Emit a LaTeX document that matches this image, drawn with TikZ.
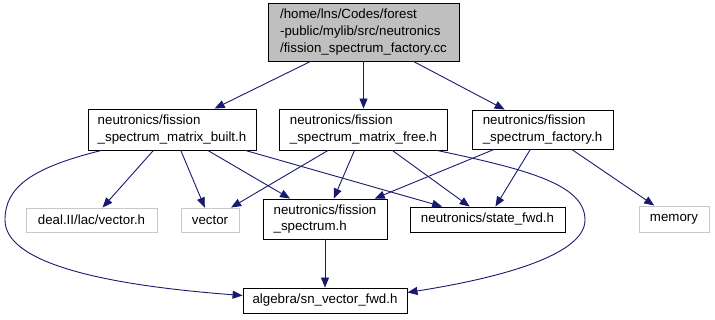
\documentclass[tikz,border=0pt]{standalone}
\usepackage{fontspec}
\setmainfont{Liberation Sans}
\usetikzlibrary{arrows.meta}

\definecolor{depblue}{HTML}{191970}
\definecolor{srcgray}{HTML}{BFBFBF}
\definecolor{sysgray}{HTML}{C8C8C8}

\begin{document}
\begin{tikzpicture}[x=1pt, y=-1pt]

	\tikzstyle{header}=[draw, line width=0.9pt, inner sep=0pt, align=left, font=\fontsize{13.3}{16.7}\selectfont]
	\tikzstyle{source}=[header, fill=srcgray]
	\tikzstyle{sysheader}=[header, draw=sysgray]

	\tikzstyle{dep}=[-{Triangle[length=10pt, width=8pt]}, depblue, line width=0.9pt]

	\useasboundingbox (0,0) rectangle (715,320);

	\node[source, minimum width=191pt, minimum height=58pt] (factory_cc) at (363.5,32) {/home/lns/Codes/forest\\-public/mylib/src/neutronics\\/fission\_spectrum\_factory.cc};

	\node[header, minimum width=168pt, minimum height=41pt] (matrix_built) at (172,129.5) {neutronics/fission\\\_spectrum\_matrix\_built.h};
	\node[header, minimum width=168pt, minimum height=41pt] (matrix_free) at (363.5,129.5) {neutronics/fission\\\_spectrum\_matrix\_free.h};
	\node[header, minimum width=141pt, minimum height=39pt] (factory_h) at (542.5,129.5) {neutronics/fission\\\_spectrum\_factory.h};

	\node[sysheader, minimum width=131pt, minimum height=24pt] (deal_vector) at (91.5,220) {deal.II/lac/vector.h};
	\node[sysheader, minimum width=58pt, minimum height=24pt] (std_vector) at (210,220) {vector};
	\node[header, minimum width=124pt, minimum height=40pt] (spectrum) at (325,219) {neutronics/fission\\\_spectrum.h};
	\node[header, minimum width=155pt, minimum height=25pt] (state_fwd) at (487.5,219.5) {neutronics/state\_fwd.h};
	\node[sysheader, minimum width=70pt, minimum height=26pt] (memory) at (674,219) {memory};

	\node[header, minimum width=164pt, minimum height=25pt] (sn_vector) at (325,300.5) {algebra/sn\_vector\_fwd.h};

	% from the source file
	\draw[dep] ([xshift=-53pt]factory_cc.south) -- (matrix_built);
	\draw[dep] (factory_cc) -- (matrix_free);
	\draw[dep] ([xshift=50pt]factory_cc.south) -- (factory_h);

	% matrix built
	\draw[dep] ([xshift=14pt]matrix_built.south west) .. controls (30,168) and (5,188) .. (5,220)
		.. controls (5,260) and (90,284) .. ([yshift=5pt]sn_vector.west);
	\draw[dep] (matrix_built) -- (deal_vector);
	\draw[dep] (matrix_built) -- (std_vector);
	\draw[dep] (matrix_built) -- (spectrum);
	\draw[dep] (matrix_built) -- (state_fwd);

	% matrix free
	\draw[dep] (matrix_free) -- (std_vector);
	\draw[dep] (matrix_free) -- (spectrum);
	\draw[dep] (matrix_free) -- (state_fwd);
	\draw[dep] ([xshift=-11pt]matrix_free.south east) .. controls (530,170) and (585,185) .. (585,220)
		.. controls (585,255) and (500,278) .. ([yshift=8pt]sn_vector.east);

	% factory header
	\draw[dep] (factory_h) -- (spectrum);
	\draw[dep] (factory_h) -- (state_fwd);
	\draw[dep] (factory_h) -- (memory);

	\draw[dep] (spectrum) -- (sn_vector);

\end{tikzpicture}
\end{document}
